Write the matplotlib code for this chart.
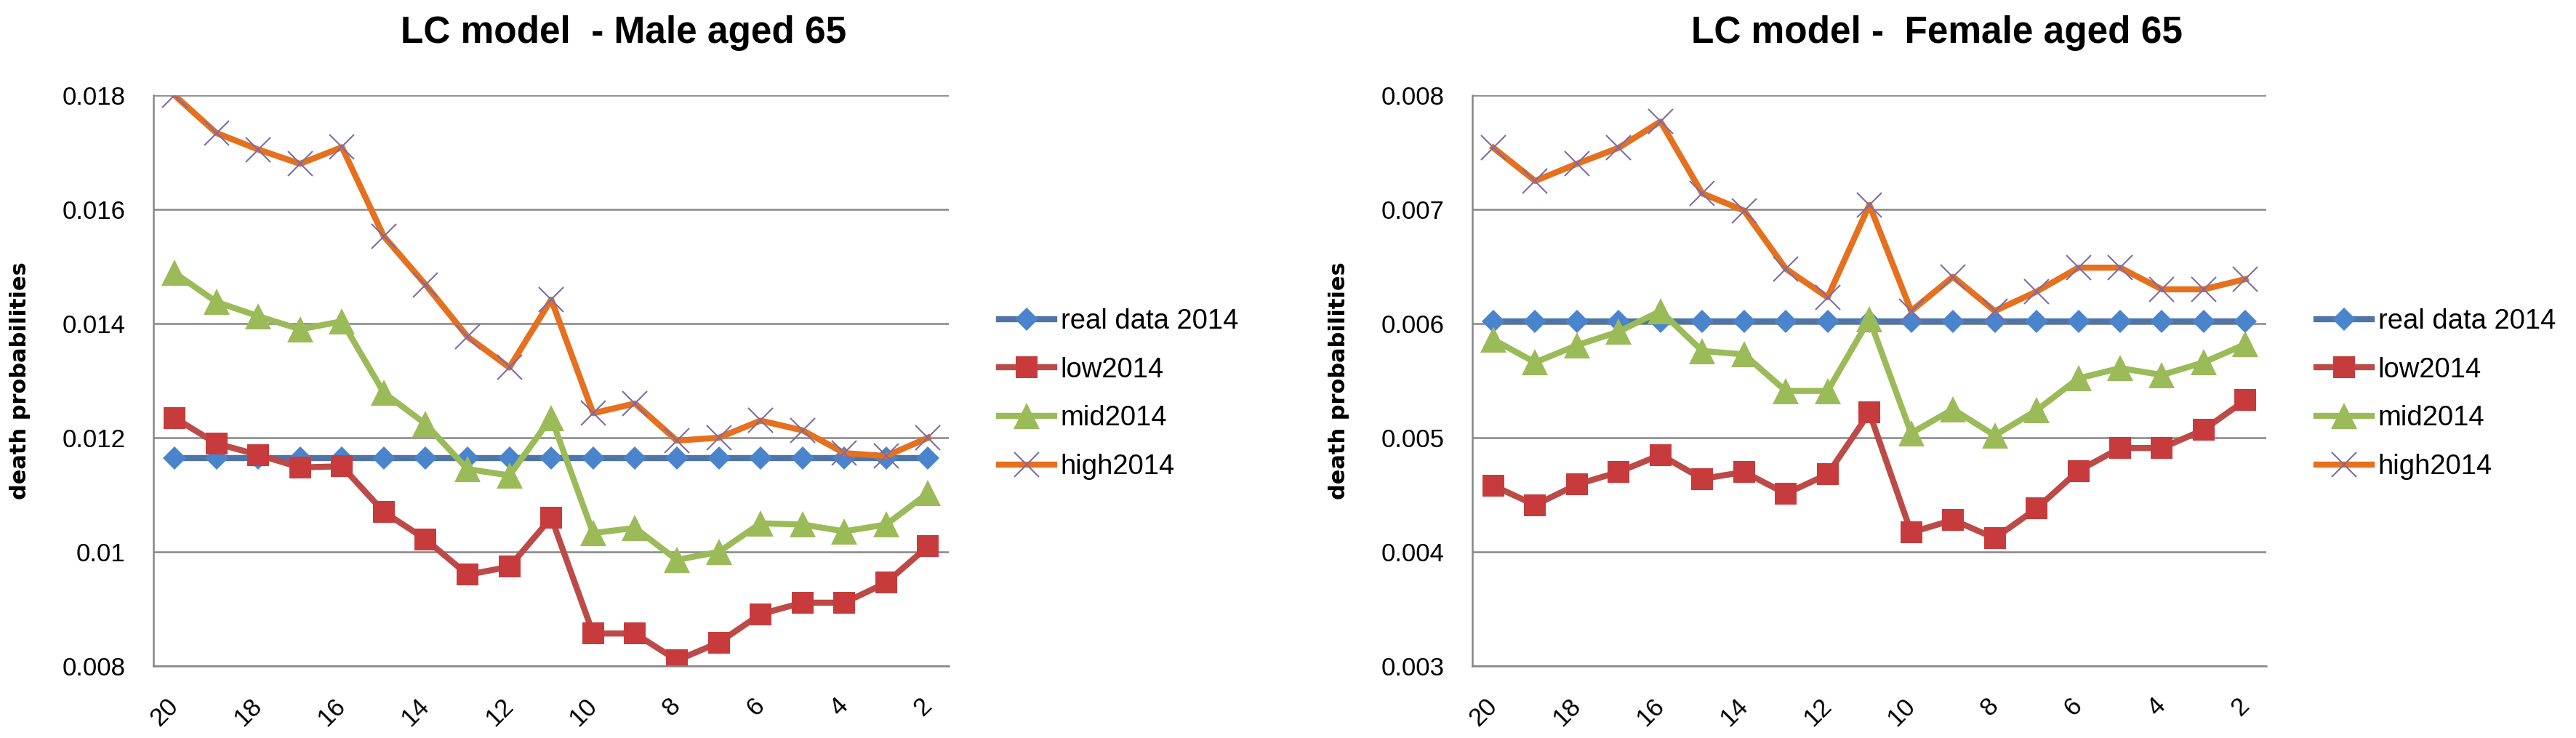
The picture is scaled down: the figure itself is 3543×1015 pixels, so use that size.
"""LC model death probabilities, male and female aged 65 (two Excel-style line charts)."""
import matplotlib
matplotlib.use("Agg")
import matplotlib.pyplot as plt
from matplotlib.ticker import FixedLocator, FuncFormatter

years = [20, 19, 18, 17, 16, 15, 14, 13, 12, 11, 10, 9, 8, 7, 6, 5, 4, 3, 2]
series_names = ["real data 2014", "low2014", "mid2014", "high2014"]

male_real = [0.01165, 0.01165, 0.01165, 0.01165, 0.01165, 0.01165, 0.01165, 0.01165, 0.01165, 0.01165,
             0.01165, 0.01165, 0.01165, 0.01165, 0.01165, 0.01165, 0.01165, 0.01165, 0.01165]
male_low = [0.01235, 0.0119, 0.0117, 0.01148, 0.0115, 0.0107, 0.01022, 0.0096, 0.00974, 0.0106,
            0.00857, 0.00857, 0.0081, 0.00841, 0.00891, 0.00911, 0.00911, 0.00946, 0.0101]
male_mid = [0.01489, 0.01438, 0.01413, 0.0139, 0.01404, 0.01279, 0.01224, 0.01145, 0.01134, 0.01235,
            0.01033, 0.01042, 0.00986, 0.0100, 0.0105, 0.01048, 0.01036, 0.01048, 0.01103]
male_high = [0.0180, 0.01734, 0.01705, 0.0168, 0.01709, 0.01553, 0.01468, 0.01377, 0.01323, 0.01442,
             0.01243, 0.0126, 0.01195, 0.0120, 0.0123, 0.01213, 0.01173, 0.01168, 0.0120]

female_real = [0.00602, 0.00602, 0.00602, 0.00602, 0.00602, 0.00602, 0.00602, 0.00602, 0.00602, 0.00602,
               0.00602, 0.00602, 0.00602, 0.00602, 0.00602, 0.00602, 0.00602, 0.00602, 0.00602]
female_low = [0.00458, 0.00441, 0.00459, 0.0047, 0.00485, 0.00464, 0.0047, 0.00451, 0.00468, 0.00522,
              0.00417, 0.00428, 0.00412, 0.00438, 0.00471, 0.00491, 0.00491, 0.00507, 0.00533]
female_mid = [0.00586, 0.00566, 0.00581, 0.00593, 0.00611, 0.00576, 0.00573, 0.00541, 0.00541, 0.00604,
              0.00504, 0.00525, 0.00502, 0.00524, 0.00552, 0.00561, 0.00555, 0.00566, 0.00582]
female_high = [0.00754, 0.00725, 0.0074, 0.00754, 0.00777, 0.00714, 0.00699, 0.00648, 0.00623, 0.00704,
               0.00611, 0.00641, 0.00611, 0.00628, 0.00649, 0.00649, 0.0063, 0.0063, 0.00639]

male_ticks = [0.008, 0.010, 0.012, 0.014, 0.016, 0.018]
female_ticks = [0.003, 0.004, 0.005, 0.006, 0.007, 0.008]

GRID = "#878787"
STYLES = [
    dict(color="#4F74A8", marker="D", ms=16, mfc="#4A84CC", mec="#4A84CC", mew=0),
    dict(color="#BC4A47", marker="s", ms=22, mfc="#C83B3C", mec="#C83B3C", mew=0),
    dict(color="#9BBB59", marker="^", ms=26, mfc="#9BBB59", mec="#9BBB59", mew=0),
    dict(color="#E5701E", marker="x", ms=24, mec="#7E6BA6", mew=1.5),
]
TXT = ["Liberation Sans", "DejaVu Sans"]


def draw(ax, data, ticks, title, title_x, legend_x):
    x = range(len(years))
    handles = []
    for vals, name, st in zip(data, series_names, STYLES):
        h, = ax.plot(x, vals, lw=6, label=name, solid_joinstyle="round", **st)
        handles.append(h)
    ax.set_xlim(-0.5, len(years) - 0.5)
    ax.set_ylim(ticks[0], ticks[-1])
    ax.yaxis.set_major_locator(FixedLocator(ticks))
    ax.yaxis.set_major_formatter(FuncFormatter(lambda v, p: f"{v:.3f}".rstrip("0")))
    ax.set_xticks(list(x)[::2])
    ax.set_xticklabels([str(y) for y in years[::2]], rotation=45, ha="right",
                       va="center", rotation_mode="anchor", family=TXT, fontsize=25)
    for lab in ax.get_yticklabels():
        lab.set_family(TXT)
        lab.set_fontsize(25)
    ax.tick_params(axis="both", length=0, colors="black")
    ax.tick_params(axis="y", pad=28)
    ax.tick_params(axis="x", pad=36)
    ax.grid(axis="y", color=GRID, lw=1.8)
    ax.set_axisbelow(True)
    for s in ("top", "right"):
        ax.spines[s].set_visible(False)
    for s in ("left", "bottom"):
        ax.spines[s].set_color(GRID)
        ax.spines[s].set_linewidth(1.8)
    ax.set_ylabel("death probabilities", family="DejaVu Sans", fontweight="bold", fontsize=22)
    ax.yaxis.set_label_coords(-0.155, 0.5)
    fig.text(title_x, 0.955, title, ha="center", va="center", fontsize=37,
             fontweight="bold", family=TXT)
    fig.legend(handles=handles, loc="upper left", bbox_to_anchor=(legend_x, 0.582),
               frameon=False, borderpad=0, borderaxespad=0, handlelength=2.0,
               handletextpad=0.22, labelspacing=0.8, prop=dict(family=TXT, size=27.5))


fig = plt.figure(figsize=(35.43, 10.15), dpi=100)
ax1 = fig.add_axes([0.0596, 0.0975, 0.3088, 0.7734])
ax2 = fig.add_axes([0.5716, 0.0975, 0.3082, 0.7734])

draw(ax1, [male_real, male_low, male_mid, male_high], male_ticks,
     "LC model  - Male aged 65", 0.2420, 0.3878)
draw(ax2, [female_real, female_low, female_mid, female_high], female_ticks,
     "LC model -  Female aged 65", 0.752, 0.8992)

fig.savefig("out.png", dpi=100)
